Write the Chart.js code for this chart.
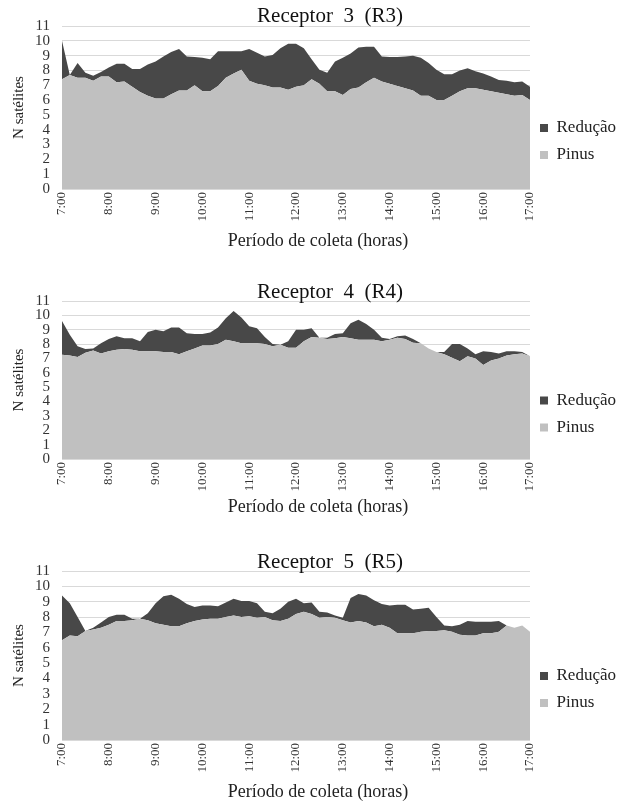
<!DOCTYPE html>
<html>
<head>
<meta charset="utf-8">
<script src="https://cdn.jsdelivr.net/npm/chart.js@4.4.1/dist/chart.umd.min.js"></script>
<style>
  body { margin: 0; width: 617px; height: 802px; overflow: hidden; background: #fff; position: relative; }
  .panel { position: absolute; left: 0; width: 626px; }
  .title, .xtitle { position: absolute; text-align: center; white-space: pre; color: #111;
           font-family: "Liberation Serif", "Times New Roman", serif; }
  .title { left: 180px; width: 300px; font-size: 21px; line-height: 21px; }
  .xtitle { left: 168px; width: 300px; font-size: 18px; line-height: 18px; color: #222; }
</style>
</head>
<body>

<div class="panel" style="top:0px;height:257px"><canvas id="r3"></canvas></div>
<div class="title" style="top:5px">Receptor  3  (R3)</div>
<div class="xtitle" style="top:231px">Período de coleta (horas)</div>

<div class="panel" style="top:275px;height:252px"><canvas id="r4"></canvas></div>
<div class="title" style="top:281px">Receptor  4  (R4)</div>
<div class="xtitle" style="top:497px">Período de coleta (horas)</div>

<div class="panel" style="top:545px;height:263px"><canvas id="r5"></canvas></div>
<div class="title" style="top:551px">Receptor  5  (R5)</div>
<div class="xtitle" style="top:782px">Período de coleta (horas)</div>

<script>
// horário das coletas (a cada 10 min)
const times = [
  '7:00','7:10','7:20','7:30','7:40','7:50',
  '8:00','8:10','8:20','8:30','8:40','8:50',
  '9:00','9:10','9:20','9:30','9:40','9:50',
  '10:00','10:10','10:20','10:30','10:40','10:50',
  '11:00','11:10','11:20','11:30','11:40','11:50',
  '12:00','12:10','12:20','12:30','12:40','12:50',
  '13:00','13:10','13:20','13:30','13:40','13:50',
  '14:00','14:10','14:20','14:30','14:40','14:50',
  '15:00','15:10','15:20','15:30','15:40','15:50',
  '16:00','16:10','16:20','16:30','16:40','16:50',
  '17:00'
];
const yTicks = [0, 1, 2, 3, 4, 5, 6, 7, 8, 9, 10, 11];

// Receptor 3
const pinusR3 = [7.4,7.7,7.5,7.5,7.3,7.6,7.6,7.2,7.25,6.9,6.55,6.3,6.1,6.1,6.4,6.65,
  6.65,7.0,6.6,6.6,6.95,7.5,7.8,8.05,7.3,7.1,7.0,6.85,6.85,6.7,6.9,
  7.0,7.4,7.1,6.6,6.6,6.35,6.75,6.85,7.2,7.5,7.25,7.1,6.95,6.8,6.65,6.3,6.3,6.0,6.0,
  6.3,6.6,6.8,6.8,6.7,6.6,6.5,6.4,6.3,6.35,6.0];
const reducaoR3 = [2.6,0,1.0,0.35,0.35,0.3,0.6,1.25,1.2,1.2,1.55,2.1,2.5,2.85,2.85,2.8,
  2.3,1.9,2.25,2.15,2.35,1.8,1.5,1.25,2.15,2.1,1.95,2.2,2.65,3.1,2.9,
  2.5,1.35,0.95,1.25,2.0,2.5,2.4,2.7,2.4,2.1,1.7,1.8,1.95,2.15,2.35,2.55,2.2,2.05,1.75,
  1.45,1.4,1.35,1.15,1.1,1.0,0.85,0.9,0.9,0.9,0.9];

// Receptor 4
const pinusR4 = [7.25,7.2,7.1,7.4,7.55,7.35,7.5,7.6,7.65,7.6,7.5,7.5,7.5,7.45,7.45,7.3,
  7.5,7.7,7.9,7.9,8.0,8.3,8.2,8.05,8.05,8.05,8.0,7.85,7.95,7.75,7.75,
  8.2,8.5,8.45,8.35,8.4,8.5,8.4,8.3,8.3,8.3,8.2,8.3,8.45,8.35,8.1,8.05,7.7,7.45,7.3,
  7.05,6.8,7.15,7.0,6.55,6.85,7.0,7.2,7.3,7.35,7.15];
const reducaoR4 = [2.35,1.45,0.75,0.25,0.15,0.7,0.85,0.95,0.75,0.8,0.7,1.35,1.5,1.45,1.7,1.85,
  1.25,1.0,0.8,0.9,1.15,1.5,2.1,1.8,1.2,1.05,0.5,0.15,0,0.45,1.25,
  0.8,0.6,0,0.1,0.3,0.25,1.05,1.4,1.1,0.7,0.25,0.05,0.1,0.25,0.25,0,0,0,0.15,
  0.95,1.2,0.55,0.3,0.95,0.6,0.35,0.3,0.2,0.1,0];

// Receptor 5
const pinusR5 = [6.5,6.8,6.75,7.1,7.2,7.3,7.5,7.75,7.75,7.8,7.9,7.8,7.6,7.5,7.4,7.4,
  7.6,7.75,7.85,7.9,7.9,8.0,8.1,8.0,8.05,7.95,8.0,7.8,7.75,7.9,8.2,
  8.35,8.2,7.95,8.0,7.95,7.8,7.65,7.75,7.65,7.4,7.5,7.3,6.95,6.95,6.95,7.05,7.1,7.1,7.15,
  7.05,6.85,6.8,6.8,6.95,6.95,7.05,7.45,7.3,7.45,7.05];
const reducaoR5 = [2.9,2.1,1.25,0,0.1,0.35,0.5,0.4,0.4,0.1,0,0.45,1.3,1.85,2.05,1.8,
  1.25,0.9,0.9,0.85,0.8,0.95,1.1,1.05,1.0,0.95,0.35,0.45,0.8,1.1,1.0,
  0.55,0.75,0.4,0.3,0.15,0.15,1.6,1.75,1.75,1.7,1.35,1.45,1.85,1.85,1.55,1.5,1.5,0.9,0.3,
  0.35,0.65,0.95,0.9,0.75,0.75,0.7,0,0,0,0];

const serif = '"Liberation Serif", "Times New Roman", serif';
const charts = [];

function makeChart(id, pinus, reducao) {
    const ctx = document.getElementById(id).getContext('2d');
    return new Chart(ctx, {
        type: 'line',
        data: {
            labels: times,
            datasets: [{
                label: 'Pinus',
                data: pinus,
                backgroundColor: '#c0c0c0',
                borderColor: '#c0c0c0',
                borderWidth: 0,
                pointRadius: 0,
                fill: 'origin'
            }, {
                label: 'Redução',
                data: reducao,
                backgroundColor: '#484848',
                borderColor: '#484848',
                borderWidth: 0,
                pointRadius: 0,
                fill: '-1'
            }]
        },
        options: {
            responsive: true,
            maintainAspectRatio: false,
            animation: false,
            layout: { padding: { top: 26, left: 0, right: 0, bottom: 0 } },
            plugins: {
                tooltip: { enabled: false },
                legend: {
                    position: 'right',
                    reverse: true,
                    labels: {
                        boxWidth: 8,
                        boxHeight: 8,
                        padding: 10,
                        color: '#222',
                        font: { family: serif, size: 17 }
                    }
                }
            },
            scales: {
                x: {
                    afterFit: axis => { axis.height = 68; },
                    grid: { display: false, drawTicks: false },
                    border: { display: false },
                    ticks: {
                        autoSkip: false,
                        minRotation: 90,
                        maxRotation: 90,
                        padding: 3,
                        color: '#333',
                        font: { family: serif, size: 13 },
                        callback: function (val) {
                            const l = this.getLabelForValue(val);
                            return l.endsWith(':00') ? l : '';
                        }
                    }
                },
                y: {
                    stacked: true,
                    min: 0,
                    max: 11,
                    afterBuildTicks: axis => { axis.ticks = yTicks.map(v => ({ value: v })); },
                    afterFit: axis => { axis.width = 62; },
                    grid: { color: '#d9d9d9', drawTicks: false },
                    border: { display: false },
                    ticks: {
                        autoSkip: false,
                        padding: 12,
                        color: '#333',
                        font: { family: serif, size: 15 }
                    },
                    title: {
                        display: true,
                        text: 'N satélites',
                        color: '#222',
                        font: { family: serif, size: 15 },
                        padding: { top: 10, bottom: 8 }
                    }
                }
            }
        }
    });
}

charts.push(makeChart('r3', pinusR3, reducaoR3));
charts.push(makeChart('r4', pinusR4, reducaoR4));
charts.push(makeChart('r5', pinusR5, reducaoR5));
</script>
</body>
</html>
